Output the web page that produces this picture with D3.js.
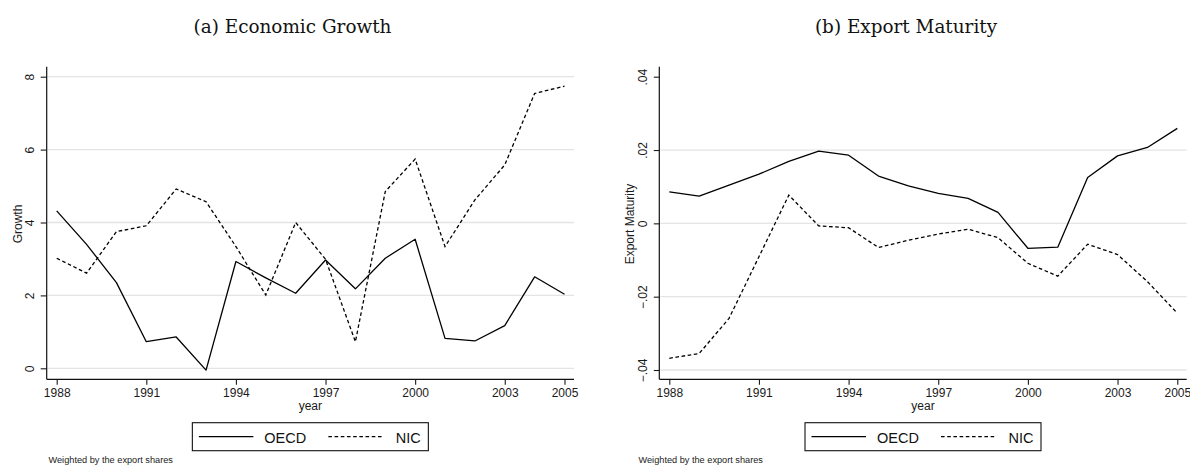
<!DOCTYPE html>
<html>
<head>
<meta charset="utf-8">
<script src="https://cdn.jsdelivr.net/npm/d3@7"></script>
<style>
  html, body { margin: 0; padding: 0; background: #fff; }
  svg { display: block; }
  .tick text { font-family: "Liberation Sans", Arial, sans-serif; font-size: 12px; fill: #1a1a1a; }
  .tick line { stroke: #1a1a1a; stroke-width: 1.1; }
</style>
</head>
<body>
<svg id="chart" width="1190" height="465"></svg>
<script>
// Years on the horizontal axis
const years = [1988, 1989, 1990, 1991, 1992, 1993, 1994, 1995, 1996, 1997,
               1998, 1999, 2000, 2001, 2002, 2003, 2004, 2005];
const yearTicks = [1988, 1991, 1994, 1997, 2000, 2003, 2005];

// (a) Economic growth, weighted by export shares
const growthOECD = [4.32, 3.40, 2.35, 0.73, 0.86, -0.05, 2.93, 2.48, 2.06, 2.97,
                    2.18, 3.02, 3.54, 0.82, 0.75, 1.17, 2.51, 2.03];
const growthNIC  = [3.02, 2.61, 3.75, 3.91, 4.92, 4.57, 3.34, 2.01, 4.00, 2.99,
                    0.73, 4.85, 5.74, 3.34, 4.62, 5.58, 7.54, 7.74];
const growthTicks = [0, 2, 4, 6, 8];
const growthTickLabels = ["0", "2", "4", "6", "8"];

// (b) Export maturity, weighted by export shares
const maturityOECD = [0.0086, 0.0074, 0.0104, 0.0134, 0.0169, 0.0197, 0.0186, 0.0129, 0.0102, 0.0082,
                      0.0068, 0.0030, -0.0068, -0.0065, 0.0125, 0.0184, 0.0207, 0.0259];
const maturityNIC  = [-0.0368, -0.0355, -0.0259, -0.0091, 0.0077, -0.0007, -0.0012, -0.0066, -0.0046, -0.0029,
                      -0.0016, -0.0039, -0.0109, -0.0144, -0.0057, -0.0085, -0.0159, -0.0245];
const maturityTicks = [-0.04, -0.02, 0, 0.02, 0.04];
const maturityTickLabels = ["\u2212.04", "\u2212.02", "0", ".02", ".04"];

const seriesNames = ["OECD", "NIC"];
const note = "Weighted by the export shares";

const svg = d3.select("#chart");
svg.append("rect").attr("width", 1190).attr("height", 465).attr("fill", "#fff");

const SANS = "'Liberation Sans', Arial, sans-serif";
const SERIF = "'DejaVu Serif', serif";
const DASH = "3.6,2.6";

function drawPanel(cfg) {
  const g = svg.append("g");

  const x = d3.scaleLinear().domain([years[0], years[years.length - 1]]).range(cfg.xRange);
  const y = d3.scaleLinear().domain([cfg.ticks[0], cfg.ticks[cfg.ticks.length - 1]]).range(cfg.yRange);

  // title
  g.append("text")
    .attr("x", cfg.titleX).attr("y", 33)
    .attr("text-anchor", "middle")
    .attr("font-family", SERIF).attr("font-size", 18.4)
    .attr("fill", "#111")
    .text(cfg.title);

  // horizontal grid
  g.append("g").selectAll("line")
    .data(cfg.ticks.filter(t => cfg.gridTop || t !== cfg.ticks[cfg.ticks.length - 1]))
    .join("line")
    .attr("x1", cfg.axisX + 1).attr("x2", cfg.axisRight)
    .attr("y1", d => y(d)).attr("y2", d => y(d))
    .attr("stroke", "#e4e4e4").attr("stroke-width", 1.3);

  // y axis ticks and rotated labels
  const yAxis = g.append("g")
    .attr("transform", `translate(${cfg.axisX},0)`)
    .call(d3.axisLeft(y).tickValues(cfg.ticks)
      .tickFormat((d, i) => cfg.tickLabels[i]).tickSize(cfg.yTickLen));
  yAxis.select(".domain").remove();
  yAxis.selectAll(".tick text")
    .attr("x", null).attr("dy", null)
    .attr("text-anchor", "middle")
    .attr("transform", `translate(${-cfg.yLabelOff},0) rotate(-90)`);

  // x axis ticks and labels
  const xAxis = g.append("g")
    .attr("transform", `translate(0,${cfg.axisBottom})`)
    .call(d3.axisBottom(x).tickValues(yearTicks).tickFormat(d3.format("d")).tickSize(5.5));
  xAxis.select(".domain").remove();
  xAxis.selectAll(".tick text").attr("y", 18).attr("dy", null);

  // axis lines
  g.append("line")
    .attr("x1", cfg.axisX).attr("x2", cfg.axisX)
    .attr("y1", cfg.axisTop).attr("y2", cfg.axisBottom)
    .attr("stroke", "#111").attr("stroke-width", 1.2);
  g.append("line")
    .attr("x1", cfg.axisX).attr("x2", cfg.axisRight)
    .attr("y1", cfg.axisBottom).attr("y2", cfg.axisBottom)
    .attr("stroke", "#111").attr("stroke-width", 1.2);

  // axis titles
  g.append("text")
    .attr("transform", `translate(${cfg.yTitleX},${(cfg.axisTop + cfg.axisBottom) / 2 + 1}) rotate(-90)`)
    .attr("text-anchor", "middle")
    .attr("font-family", SANS).attr("font-size", 12).attr("fill", "#1a1a1a")
    .text(cfg.yTitle);
  const cx = (cfg.axisX + cfg.axisRight) / 2;
  g.append("text")
    .attr("x", cx).attr("y", 410)
    .attr("text-anchor", "middle")
    .attr("font-family", SANS).attr("font-size", 12).attr("fill", "#1a1a1a")
    .text("year");

  // series lines
  const line = d3.line().x((d, i) => x(years[i])).y(d => y(d));
  g.append("path").datum(cfg.a)
    .attr("d", line).attr("fill", "none")
    .attr("stroke", "#000").attr("stroke-width", 1.3)
    .attr("stroke-linejoin", "round");
  g.append("path").datum(cfg.b)
    .attr("d", line).attr("fill", "none")
    .attr("stroke", "#000").attr("stroke-width", 1.3)
    .attr("stroke-dasharray", DASH);

  // legend
  const lx = cx - 118, ly = 422.7, lh = 28, lw = 236;
  const lg = g.append("g");
  lg.append("rect")
    .attr("x", lx).attr("y", ly).attr("width", lw).attr("height", lh)
    .attr("fill", "#fff").attr("stroke", "#111").attr("stroke-width", 1.1);
  const my = ly + lh / 2;
  lg.append("line").attr("x1", lx + 6.5).attr("x2", lx + 61).attr("y1", my).attr("y2", my)
    .attr("stroke", "#000").attr("stroke-width", 1.3);
  lg.append("line").attr("x1", lx + 136).attr("x2", lx + 191).attr("y1", my).attr("y2", my)
    .attr("stroke", "#000").attr("stroke-width", 1.3).attr("stroke-dasharray", DASH);
  lg.append("text").attr("x", lx + 72).attr("y", 443.3)
    .attr("font-family", SANS).attr("font-size", 14.5).attr("fill", "#111")
    .text(seriesNames[0]);
  lg.append("text").attr("x", lx + 203.5).attr("y", 443.3)
    .attr("font-family", SANS).attr("font-size", 14.5).attr("fill", "#111")
    .text(seriesNames[1]);

  // note
  g.append("text")
    .attr("x", cfg.noteX).attr("y", 463)
    .attr("font-family", SANS).attr("font-size", 9.2).attr("fill", "#222")
    .text(note);
}

drawPanel({
  title: "(a) Economic Growth", titleX: 292.5,
  yTitle: "Growth", yTitleX: 21.5,
  ticks: growthTicks, tickLabels: growthTickLabels,
  a: growthOECD, b: growthNIC,
  xRange: [56.7, 564.5], yRange: [368.3, 76.7],
  axisX: 46.7, axisRight: 574, axisTop: 66.7, axisBottom: 379.3,
  yTickLen: 6, yLabelOff: 13.2, gridTop: true, noteX: 48.5
});

drawPanel({
  title: "(b) Export Maturity", titleX: 906,
  yTitle: "Export Maturity", yTitleX: 634.3,
  ticks: maturityTicks, tickLabels: maturityTickLabels,
  a: maturityOECD, b: maturityNIC,
  xRange: [669.3, 1177.3], yRange: [370, 76.7],
  axisX: 659.3, axisRight: 1186.7, axisTop: 66.7, axisBottom: 379.3,
  yTickLen: 5.5, yLabelOff: 12, gridTop: false, noteX: 638.5
});
</script>
</body>
</html>
